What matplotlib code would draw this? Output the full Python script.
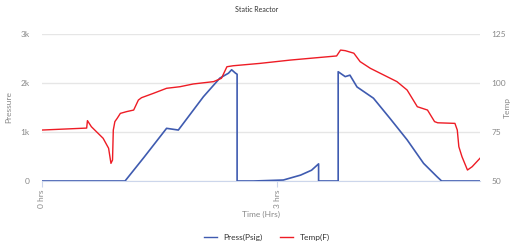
import matplotlib
matplotlib.use("Agg")
import matplotlib.pyplot as plt
from matplotlib.lines import Line2D

# Pressure (Psig) series: time in hours, value in psig
press_t = [0.0, 1.06, 1.30, 1.59, 1.74, 2.06, 2.27, 2.38, 2.42, 2.47, 2.49, 2.49, 2.70, 3.08, 3.30, 3.44, 3.53, 3.53, 3.78, 3.78, 3.87, 3.93, 4.02, 4.23, 4.44, 4.66, 4.87, 5.04, 5.10, 5.59]
press_v = [0, 0, 480, 1075, 1040, 1720, 2100, 2200, 2270, 2200, 2180, 0, 0, 20, 120, 220, 350, 0, 0, 2230, 2130, 2160, 1920, 1690, 1280, 840, 360, 90, 0, 0]

# Temperature (F) series
temp_t = [0.0, 0.57, 0.58, 0.63, 0.78, 0.85, 0.88, 0.90, 0.91, 0.93, 0.96, 1.00, 1.08, 1.17, 1.23, 1.27, 1.42, 1.59, 1.76, 1.93, 2.19, 2.29, 2.36, 2.44, 2.78, 3.17, 3.76, 3.81, 3.87, 3.98, 4.06, 4.19, 4.36, 4.53, 4.66, 4.79, 4.92, 5.01, 5.05, 5.27, 5.30, 5.32, 5.36, 5.43, 5.49, 5.59]
temp_v = [76, 77, 80.8, 77.7, 71.8, 66.7, 59.0, 60.7, 76, 80.3, 82, 84.5, 85.4, 86.2, 91.3, 92.5, 94.7, 97.3, 98.1, 99.5, 100.7, 102.4, 108.3, 108.8, 110, 111.7, 113.8, 116.8, 116.5, 115.2, 110.9, 107.5, 104.1, 100.7, 96.4, 87.9, 86.2, 80.3, 79.7, 79.4, 76, 67.5, 62.4, 55.6, 57.3, 61.6]

title = "Static Reactor"
press_label = "Press(Psig)"
temp_label = "Temp(F)"
x_ticks = [0, 3]
x_ticklabels = ["0 hrs", "3 hrs"]
y1_ticks = [0, 1000, 2000, 3000]
y1_ticklabels = ["0", "1k", "2k", "3k"]
y2_ticks = [50, 75, 100, 125]

plt.rcParams['font.family'] = ['Lato', 'DejaVu Sans']
BLUE = "#3f5bb0"
RED = "#ee1c25"
TXT = "#888888"

fig = plt.figure(figsize=(5.13, 2.46), dpi=100)
ax = fig.add_axes([42/513, 1-181/246, (480-42)/513, (181-34)/246])
ax2 = ax.twinx()

ax.plot(press_t, press_v, color=BLUE, lw=1.2, zorder=3)
ax2.plot(temp_t, temp_v, color=RED, lw=1.0, zorder=3)

ax.set_xlim(0, 5.59)
ax.set_ylim(0, 3000)
ax2.set_ylim(50, 125)

ax.set_yticks(y1_ticks)
ax.set_yticklabels(y1_ticklabels)
ax2.set_yticks(y2_ticks)
ax.set_xticks(x_ticks)
ax.set_xticklabels(x_ticklabels, rotation=90, va='top')

ax.grid(axis='y', color='#e6e6e6', lw=1)
ax.set_axisbelow(True)
for a in (ax, ax2):
    for s in a.spines.values():
        s.set_visible(False)
ax.spines['bottom'].set_visible(True)
ax.spines['bottom'].set_color('#ccd6eb')
ax.tick_params(axis='y', length=0, labelsize=6, labelcolor=TXT, pad=9)
ax2.tick_params(axis='y', length=0, labelsize=6, labelcolor=TXT, pad=8)
ax.tick_params(axis='x', length=4, color='#ccd6eb', labelsize=6, labelcolor=TXT, pad=2)

ax.set_ylabel("Pressure", fontsize=6, color=TXT, labelpad=6)
ax2.set_ylabel("Temp", fontsize=6, color=TXT)
ax2.yaxis.set_label_coords((504 - 42) / 438, 0.5)
ax.set_xlabel("Time (Hrs)", fontsize=6, color=TXT, labelpad=2)
fig.text(0.5, 1-10/246, title, ha='center', va='center', fontsize=5, color='#333333')

handles = [Line2D([0], [0], color=BLUE, lw=1), Line2D([0], [0], color=RED, lw=1)]
fig.legend(handles, [press_label, temp_label], loc='center', bbox_to_anchor=(0.52, 1-237/246),
           ncol=2, frameon=False, fontsize=6, handlelength=1.6, columnspacing=2.0,
           labelcolor='#333333')

fig.savefig("out.png", dpi=100)
